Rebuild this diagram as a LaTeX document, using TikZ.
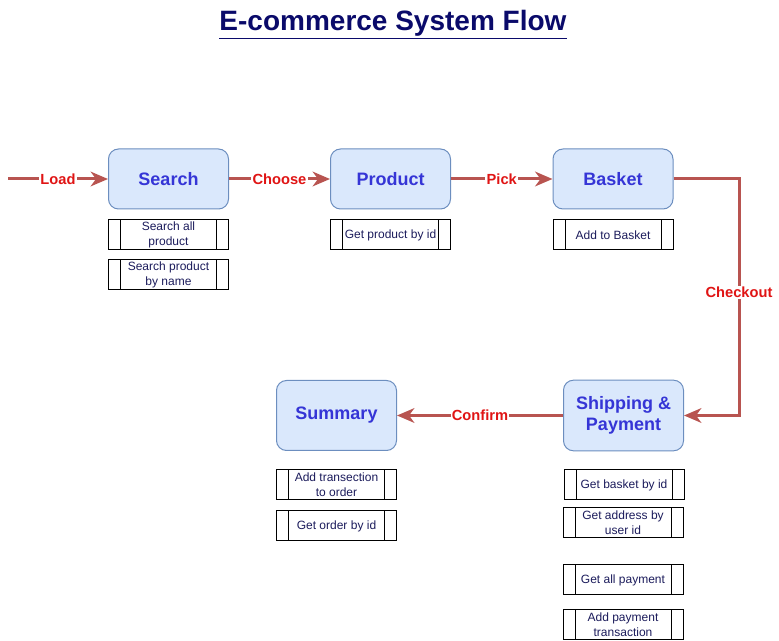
\documentclass[tikz,border=0pt]{standalone}
\usepackage{fontspec}
\setmainfont{Liberation Sans}
\usetikzlibrary{arrows.meta}

\definecolor{boxfill}{HTML}{DAE8FC}
\definecolor{boxline}{HTML}{6C8EBF}
\definecolor{stagetext}{HTML}{3535D6}
\definecolor{tasktext}{HTML}{1C1C5C}
\definecolor{flowline}{HTML}{B85450}
\definecolor{lbltext}{HTML}{E01414}
\definecolor{titletext}{HTML}{0A0A6A}

\begin{document}
\begin{tikzpicture}[
    x=0.75pt, y=-0.75pt,
    stage/.style={rectangle, rounded corners=7.5pt, draw=boxline, fill=boxfill, line width=0.75pt,
        minimum width=90pt, minimum height=45pt, align=center, text=stagetext,
        font=\bfseries\fontsize{13.5}{16}\selectfont},
    task/.style={rectangle, draw=black, fill=white, line width=0.75pt, inner sep=0pt,
        minimum width=90pt, minimum height=22.5pt, align=center, text=tasktext,
        font=\fontsize{9}{11}\selectfont,
        path picture={\draw[line width=0.75pt]
            ([xshift=9pt]path picture bounding box.north west) -- ([xshift=9pt]path picture bounding box.south west)
            ([xshift=-9pt]path picture bounding box.north east) -- ([xshift=-9pt]path picture bounding box.south east);}},
    flow/.style={draw=flowline, line width=2.25pt, -{Stealth[length=13pt, width=11pt, inset=4pt]}},
    lbl/.style={fill=white, inner sep=1pt, text=lbltext, font=\bfseries\fontsize{11}{13}\selectfont}
]
    \useasboundingbox (0,0) rectangle (779,641);

    \node[text=titletext, font=\bfseries\fontsize{21}{24}\selectfont] (title) at (393,25) {\underline{E-commerce System Flow}};

    % stages
    \node[stage] (search) at (168.5,179) {Search};
    \node[stage] (product) at (390.5,179) {Product};
    \node[stage] (basket) at (613,179) {Basket};
    \node[stage, minimum height=53pt] (shipping) at (623.5,415.5) {Shipping \&\\Payment};
    \node[stage, minimum height=52.5pt] (summary) at (336.5,415.5) {Summary};

    % tasks
    \node[task] (searchall) at (168.5,235) {Search all\\product};
    \node[task] (searchname) at (168.5,275) {Search product\\by name};
    \node[task] (productid) at (390.5,235) {Get product by id};
    \node[task] (addbasket) at (613,235) {Add to Basket};
    \node[task] (basketid) at (624,485) {Get basket by id};
    \node[task] (addressid) at (623,523) {Get address by\\user id};
    \node[task] (allpayment) at (623,580) {Get all payment};
    \node[task] (addpayment) at (623,625) {Add payment\\transaction};
    \node[task] (addorder) at (336.5,485) {Add transection\\to order};
    \node[task] (orderid) at (336.5,526) {Get order by id};

    % connectors
    \coordinate (start) at (8,179);
    \coordinate (turn) at (739,179);
    \draw[flow] (start) -- node[lbl] {Load} (search);
    \draw[flow] (search) -- node[lbl] {Choose} (product);
    \draw[flow] (product) -- node[lbl] {Pick} (basket);
    \draw[flow] (basket) -- (turn) |- node[lbl, pos=0.24] {Checkout} (shipping);
    \draw[flow] (shipping) -- node[lbl] {Confirm} (summary);
\end{tikzpicture}
\end{document}
